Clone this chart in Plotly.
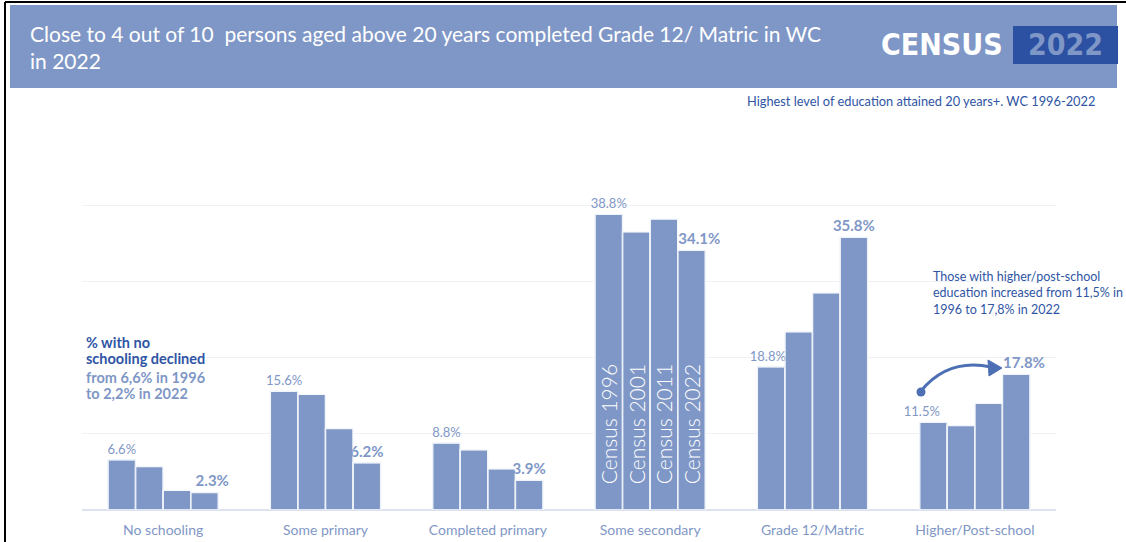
import plotly.graph_objects as go

W, H = 1126, 542

categories = ["No schooling", "Some primary", "Completed primary",
              "Some secondary", "Grade 12/Matric", "Higher/Post-school"]
census_years = ["Census 1996", "Census 2001", "Census 2011", "Census 2022"]
pct_1996 = [6.6, 15.6, 8.8, 38.8, 18.8, 11.5]
pct_2001 = [5.7, 15.2, 7.9, 36.5, 23.4, 11.1]
pct_2011 = [2.6, 10.7, 5.4, 38.2, 28.5, 14.0]
pct_2022 = [2.3, 6.2, 3.9, 34.1, 35.8, 17.8]
series = [pct_1996, pct_2001, pct_2011, pct_2022]

title_text = "Close to 4 out of 10  persons aged above 20 years completed Grade 12/ Matric in WC<br>in 2022"
subtitle_text = "Highest level of education attained 20 years+. WC 1996-2022"
note_left_dark = ["% with no", "schooling declined"]
note_left_light = ["from 6,6% in 1996", "to 2,2% in 2022"]
note_right = "Those with higher/post-school<br>education increased from 11,5% in<br>1996 to 17,8% in 2022"

BAR = "#7f97c6"
DARK = "#2f55a4"
FONT = "Lato, 'Open Sans', sans-serif"
LOGO_FONT = "'DejaVu Sans Condensed', 'DejaVu Sans', sans-serif"
NB = "\u00a0"
CLEAR = "rgba(0,0,0,0)"


def px(x):
    return x / W


def py(y):
    return 1 - y / H


fig = go.Figure()

# value labels: first census plain, last census bold; a few nudged sideways like the original
first_labels = [f"{v:.1f}%" for v in pct_1996]
first_labels[4] = first_labels[4] + NB * 2
first_labels[5] = first_labels[5] + NB * 7
last_labels = [f"<b>{v:.1f}%</b>" for v in pct_2022]
for k in (0, 3, 5):
    last_labels[k] = NB * 4 + last_labels[k]

# bars
for name, vals in zip(census_years, series):
    fig.add_trace(go.Bar(
        x=categories, y=vals, name=name, offsetgroup=name,
        marker=dict(color=BAR, line=dict(color="white", width=1.5)),
        hoverinfo="x+y+name",
    ))

# value labels, drawn after all bars so they sit on top
for i, (name, vals) in enumerate(zip(census_years, series)):
    if i == 0:
        labels, tfont = first_labels, dict(size=13, color=BAR, family=FONT)
    elif i == 3:
        labels, tfont = last_labels, dict(size=15, color=BAR, family=FONT)
    else:
        continue
    fig.add_trace(go.Bar(
        x=categories, y=vals, offsetgroup=name, marker=dict(color=CLEAR),
        text=labels, textposition="outside", textfont=tfont,
        constraintext="none", cliponaxis=False, hoverinfo="skip",
    ))

# census labels written inside the "Some secondary" bars
for name, vals in zip(census_years, series):
    inner = [NB * 4 + name if c == "Some secondary" else "" for c in categories]
    fig.add_trace(go.Bar(
        x=categories, y=vals, offsetgroup=name, marker=dict(color=CLEAR),
        text=inner, textposition="inside", textangle=-90,
        insidetextanchor="start", constraintext="none",
        textfont=dict(size=21, color="white", family=FONT, weight=300),
        hoverinfo="skip",
    ))

fig.update_layout(
    width=W, height=H,
    margin=dict(l=0, r=0, t=0, b=0),
    paper_bgcolor="white", plot_bgcolor="white",
    barmode="group", bargap=0.32, bargroupgap=0,
    showlegend=False,
    font=dict(family=FONT, color=BAR),
    xaxis=dict(domain=[px(82), px(1056)], range=[-0.5, 5.5], showgrid=False, ticks="",
               ticklabelstandoff=10,
               tickfont=dict(size=14, color=BAR, family=FONT), showline=False),
    yaxis=dict(domain=[py(510), py(129)], range=[0, 50], dtick=10,
               showticklabels=False, gridcolor="#f0f1f6", gridwidth=1,
               zeroline=True, zerolinecolor="#dce2f0", zerolinewidth=1.5),
)

shapes = [
    # header band
    dict(type="rect", xref="paper", yref="paper", x0=px(10), x1=px(1117),
         y0=py(88), y1=py(5), fillcolor=BAR, line=dict(width=0), layer="below"),
    # 2022 logo box
    dict(type="rect", xref="paper", yref="paper", x0=px(1013), x1=px(1118),
         y0=py(64), y1=py(26), fillcolor="#2c50a2", line=dict(width=0)),
    # black frame
    dict(type="line", xref="paper", yref="paper", x0=px(5), x1=px(5),
         y0=0, y1=py(2), line=dict(color="black", width=2)),
    dict(type="line", xref="paper", yref="paper", x0=px(5), x1=1,
         y0=py(2), y1=py(2), line=dict(color="black", width=2)),
    # curved arrow
    dict(type="path", xref="paper", yref="paper",
         path=f"M {px(921)},{py(391)} Q {px(948)},{py(358)} {px(991)},{py(367)}",
         line=dict(color="#4d70b4", width=3)),
    dict(type="path", xref="paper", yref="paper",
         path=f"M {px(1002)},{py(368)} L {px(988)},{py(360)} L {px(989)},{py(376)} Z",
         fillcolor="#4d70b4", line=dict(color="#4d70b4", width=1)),
    dict(type="circle", xref="paper", yref="paper",
         x0=px(916.5), x1=px(925.5), y0=py(396.5), y1=py(387.5),
         fillcolor="#4d70b4", line=dict(width=0)),
]
fig.update_layout(shapes=shapes)


def note(text, x, y, size, color, xanchor="left", yanchor="top", family=FONT, weight=None):
    f = dict(size=size, color=color, family=family)
    if weight:
        f["weight"] = weight
    return dict(text=text, x=px(x), y=py(y), xref="paper", yref="paper",
                xanchor=xanchor, yanchor=yanchor, align="left", showarrow=False, font=f)


annotations = [
    note(title_text, 28, 19, 21, "white"),
    note("<b>CENSUS</b>", 942, 45, 30, "white", xanchor="center", yanchor="middle", family=LOGO_FONT),
    note("<b>2022</b>", 1065, 45, 30, BAR, xanchor="center", yanchor="middle", family=LOGO_FONT),
    note(subtitle_text, 1097, 101, 12.8, DARK, xanchor="right", yanchor="middle"),
    note(note_right, 931, 267, 12.5, DARK),
]
for j, line in enumerate(note_left_dark):
    annotations.append(note("<b>" + line + "</b>", 84, 342 + 16.5 * j, 14.5, DARK, yanchor="middle"))
for j, line in enumerate(note_left_light):
    annotations.append(note("<b>" + line + "</b>", 84, 377 + 16.5 * j, 14.5, BAR, yanchor="middle"))
fig.update_layout(annotations=annotations)

fig.write_html("out.html", config={"displayModeBar": False},
               post_script="document.body.style.margin='0';")
